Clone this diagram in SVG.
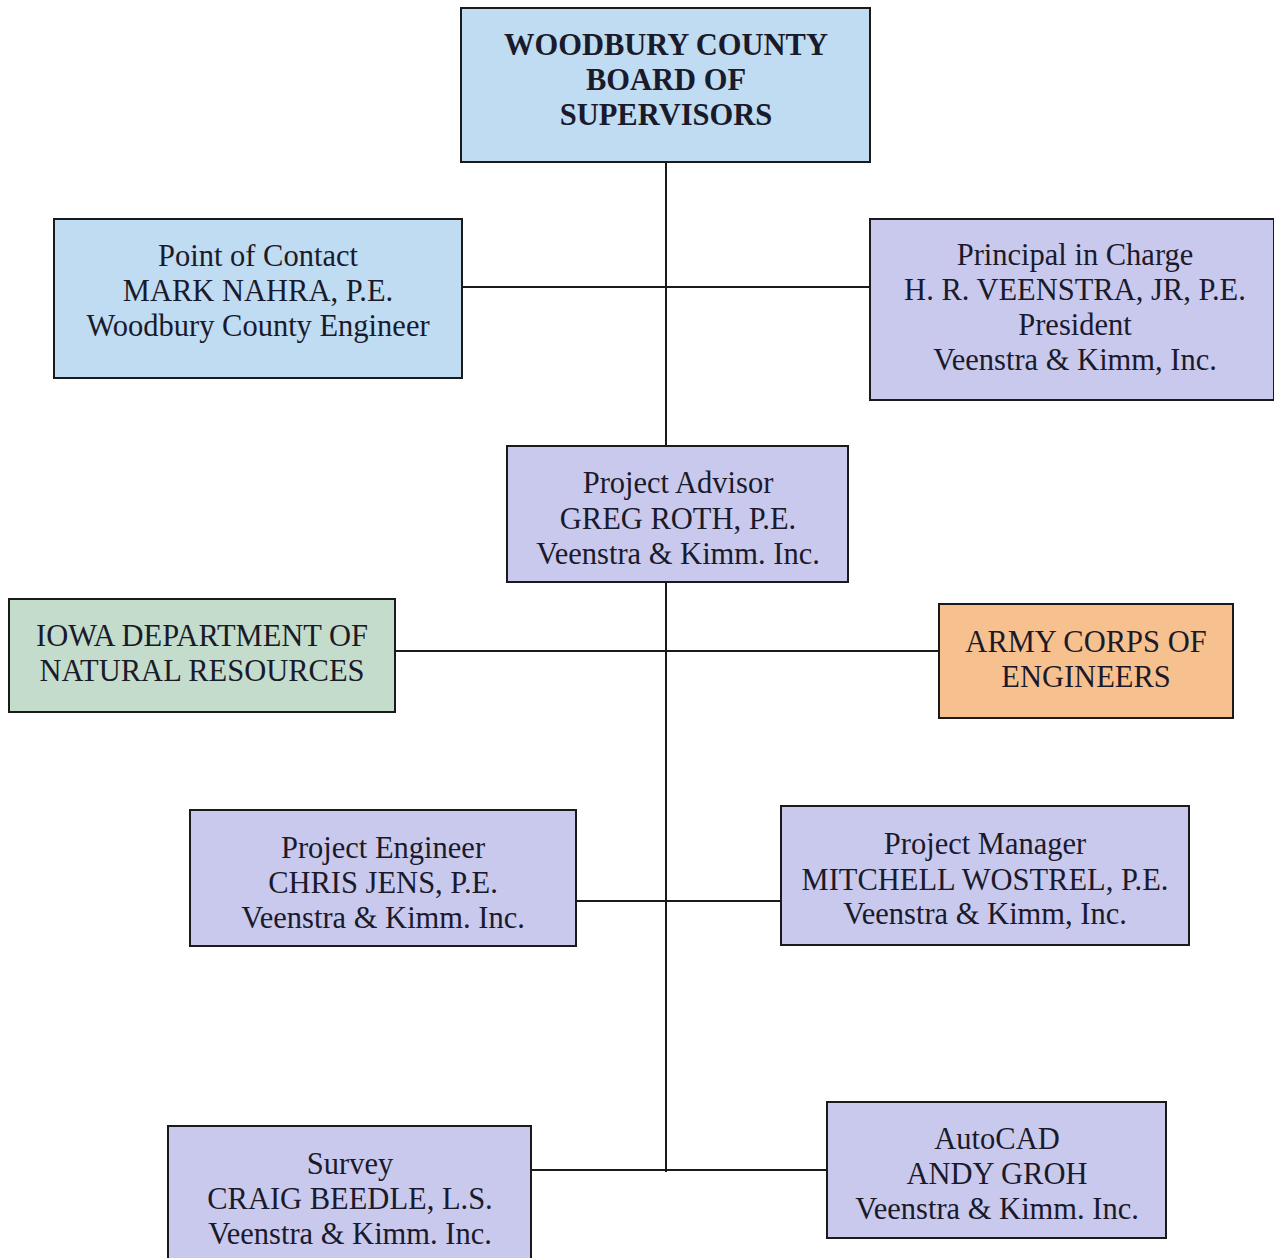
<svg xmlns="http://www.w3.org/2000/svg" width="1274" height="1258" viewBox="0 0 1274 1258">
<style>
.box{stroke:#1a1a1a;stroke-width:2}
.blue{fill:#c0dcf2}
.lav{fill:#c9c9ee}
.green{fill:#c4dccb}
.orange{fill:#f7c08f}
text{font-family:"Liberation Serif","Times New Roman",serif;font-size:30.5px;fill:#1a1a2a;text-anchor:middle}
.b{font-weight:bold}
.conn{stroke:#1a1a1a;stroke-width:2;fill:none}
</style>
<rect width="1274" height="1258" fill="#ffffff"/>
<g id="connectors">
<line class="conn" x1="666" y1="162" x2="666" y2="446"/>
<line class="conn" x1="462" y1="287" x2="870" y2="287"/>
<line class="conn" x1="666" y1="582" x2="666" y2="1172"/>
<line class="conn" x1="395" y1="651" x2="939" y2="651"/>
<line class="conn" x1="576" y1="901" x2="781" y2="901"/>
<line class="conn" x1="531" y1="1170" x2="827" y2="1170"/>
</g>
<g id="board">
<rect class="box blue" x="461" y="8" width="409" height="154"/>
<text class="b" x="666" y="55">WOODBURY COUNTY</text>
<text class="b" x="666" y="90">BOARD OF</text>
<text class="b" x="666" y="125">SUPERVISORS</text>
</g>
<g id="contact">
<rect class="box blue" x="54" y="219" width="408" height="159"/>
<text x="258" y="266">Point of Contact</text>
<text x="258" y="301">MARK NAHRA, P.E.</text>
<text x="258" y="336">Woodbury County Engineer</text>
</g>
<g id="principal">
<rect class="box lav" x="870" y="219" width="404" height="181"/>
<text x="1075" y="265">Principal in Charge</text>
<text x="1075" y="300">H. R. VEENSTRA, JR, P.E.</text>
<text x="1075" y="335">President</text>
<text x="1075" y="370">Veenstra &amp; Kimm, Inc.</text>
</g>
<g id="advisor">
<rect class="box lav" x="507" y="446" width="341" height="136"/>
<text x="678" y="493">Project Advisor</text>
<text x="678" y="529">GREG ROTH, P.E.</text>
<text x="678" y="564">Veenstra &amp; Kimm. Inc.</text>
</g>
<g id="iowa-dnr">
<rect class="box green" x="9" y="599" width="386" height="113"/>
<text x="202" y="646">IOWA DEPARTMENT OF</text>
<text x="202" y="681">NATURAL RESOURCES</text>
</g>
<g id="army">
<rect class="box orange" x="939" y="604" width="294" height="114"/>
<text x="1086" y="652">ARMY CORPS OF</text>
<text x="1086" y="687">ENGINEERS</text>
</g>
<g id="engineer">
<rect class="box lav" x="190" y="810" width="386" height="136"/>
<text x="383" y="858">Project Engineer</text>
<text x="383" y="893">CHRIS JENS, P.E.</text>
<text x="383" y="928">Veenstra &amp; Kimm. Inc.</text>
</g>
<g id="manager">
<rect class="box lav" x="781" y="806" width="408" height="139"/>
<text x="985" y="854">Project Manager</text>
<text x="985" y="890">MITCHELL WOSTREL, P.E.</text>
<text x="985" y="924">Veenstra &amp; Kimm, Inc.</text>
</g>
<g id="survey">
<rect class="box lav" x="168" y="1126" width="363" height="140"/>
<text x="350" y="1174">Survey</text>
<text x="350" y="1209">CRAIG BEEDLE, L.S.</text>
<text x="350" y="1244">Veenstra &amp; Kimm. Inc.</text>
</g>
<g id="autocad">
<rect class="box lav" x="827" y="1102" width="339" height="136"/>
<text x="997" y="1149">AutoCAD</text>
<text x="997" y="1184">ANDY GROH</text>
<text x="997" y="1219">Veenstra &amp; Kimm. Inc.</text>
</g>
</svg>
